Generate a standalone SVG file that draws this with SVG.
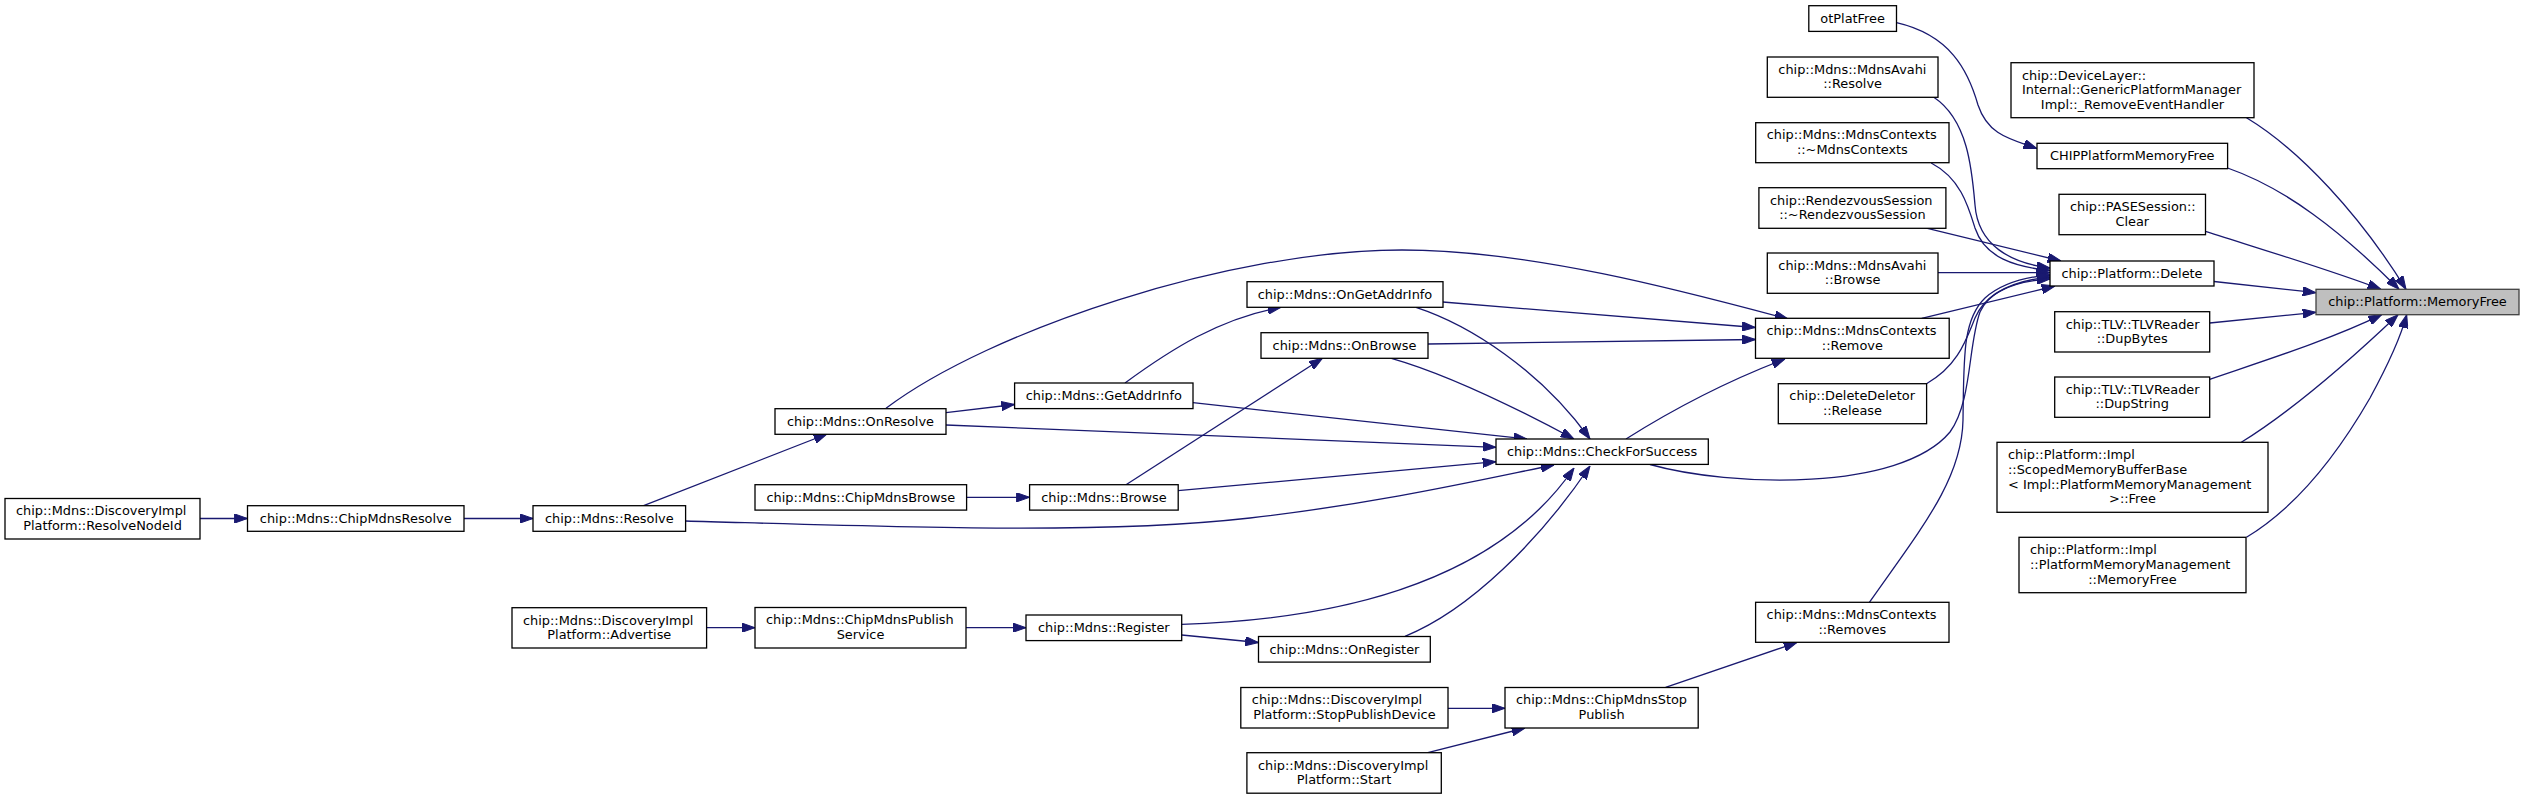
<svg xmlns="http://www.w3.org/2000/svg" width="2524" height="799" viewBox="0 0 2524 799">
<style>
.n rect{fill:#ffffff;stroke:#000000;stroke-width:1.3}
.n.root rect{fill:#bfbfbf;stroke:#404040}
.n text{font-family:"DejaVu Sans","Liberation Sans",sans-serif;font-size:12.9px;fill:#000000}
.c{text-anchor:middle}
#edges path{fill:none;stroke:#191970;stroke-width:1.3;marker-end:url(#ah)}
</style>
<defs>
<marker id="ah" markerWidth="13.3" markerHeight="9.4" refX="13.3" refY="4.7" orient="auto" markerUnits="userSpaceOnUse">
<path d="M0,0 L13.3,4.7 L0,9.4 z" fill="#191970" stroke="#191970" stroke-width="1"/>
</marker>
</defs>
<rect x="0" y="0" width="2524" height="799" fill="#ffffff"/>
<g id="edges">
<path d="M1896.5,22.7 C1950,35 1968,70 1978,105 C1988,135 2010,139 2036.8,148.5"/>
<path d="M1933.8,97.3 C1968,120 1972,170 1975,205 C1978,245 2010,263 2050,268"/>
<path d="M1931.2,163 C1960,178 1968,205 1975,228 C1985,258 2015,267 2050,270.5"/>
<path d="M1923.3,227.3 L2061,261"/>
<path d="M1938,272.7 L2050,272.7"/>
<path d="M1921.7,318.3 L2055,286"/>
<path d="M1926.5,383.7 C1958,366 1966,340 1975,318 C1985,295 2010,281 2050,277"/>
<path d="M1650,464.5 C1730,487 1900,492 1950,432 C1972,402 1968,345 1980,312 C1990,290 2015,281 2050,279"/>
<path d="M1869.2,602.7 C1920,530 1962,480 1963,420 C1964,360 1962,320 1985,298 C2002,283 2025,277 2050,275"/>
<path d="M2214,281.5 L2316,292.7"/>
<path d="M2246.5,117.7 C2300,150 2360,215 2406,289.3"/>
<path d="M2227.6,168 C2285,188 2340,230 2399,289.3"/>
<path d="M2205.5,231.3 C2270,252 2330,270 2381,289.3"/>
<path d="M2209.7,323 L2316,312.3"/>
<path d="M2209.7,379.3 C2260,362 2330,340 2381.7,314.7"/>
<path d="M2241.3,442.3 C2290,412 2345,365 2398,314.7"/>
<path d="M2246.5,537.3 C2300,505 2340,450 2370,398 C2388,365 2400,340 2406.7,314.7"/>
<path d="M886,408.3 C990,330 1230,250 1402,250 C1530,250 1680,290 1788,319"/>
<path d="M1442.8,302 L1755.3,327.5"/>
<path d="M1428,344 L1755.3,339.5"/>
<path d="M1626,439 C1680,405 1730,380 1785,359"/>
<path d="M1416,307.3 C1470,325 1540,370 1590,439"/>
<path d="M1391.4,358.3 C1450,375 1520,410 1574,439"/>
<path d="M1193,402.7 L1527,439"/>
<path d="M946,425 L1496,447.3"/>
<path d="M1178,490.7 L1496,461.7"/>
<path d="M685.6,521 C900,527 1100,535 1250,518 C1380,503 1480,480 1554,465"/>
<path d="M1181.7,624.3 C1320,620 1490,590 1574,468"/>
<path d="M1405,636.3 C1470,610 1540,540 1590,466"/>
<path d="M946,412.7 L1014.6,404.5"/>
<path d="M1125,383 C1170,350 1220,318 1281,307.3"/>
<path d="M1126,484.7 L1322.4,358.3"/>
<path d="M966.6,497.3 L1029.6,497.3"/>
<path d="M643.6,505.7 L827,434"/>
<path d="M464,518.5 L533,518.5"/>
<path d="M200,518.5 L247.5,518.5"/>
<path d="M706.6,627.7 L755,627.7"/>
<path d="M966,627.7 L1026,627.7"/>
<path d="M1181.7,635 L1258.5,642.5"/>
<path d="M1448,708.3 L1505,708.3"/>
<path d="M1427.8,752.7 L1525,728"/>
<path d="M1665.6,687.3 L1797,642.5"/>
</g>
<g id="node_MemoryFree" class="n root"><rect x="2316" y="289.3" width="203" height="25.4"/><text class="c" x="2417.5" y="306.4">chip::Platform::MemoryFree</text></g>
<g id="node_RemoveEventHandler" class="n"><rect x="2011" y="62.7" width="243" height="55"/><text x="2022" y="79.6">chip::DeviceLayer::</text><text x="2022" y="94.2">Internal::GenericPlatformManager</text><text class="c" x="2132.5" y="108.8">Impl::_RemoveEventHandler</text></g>
<g id="node_CHIPPlatformMemoryFree" class="n"><rect x="2037" y="143.3" width="190.6" height="25.4"/><text class="c" x="2132.3" y="160.4">CHIPPlatformMemoryFree</text></g>
<g id="node_PASESessionClear" class="n"><rect x="2059" y="194.3" width="146.5" height="40.4"/><text x="2070" y="211.2">chip::PASESession::</text><text class="c" x="2132.25" y="225.8">Clear</text></g>
<g id="node_Delete" class="n"><rect x="2050" y="261" width="164" height="25"/><text class="c" x="2132" y="277.9">chip::Platform::Delete</text></g>
<g id="node_DupBytes" class="n"><rect x="2054.7" y="311.7" width="155" height="40.3"/><text x="2065.7" y="328.5">chip::TLV::TLVReader</text><text class="c" x="2132.2" y="343.1">::DupBytes</text></g>
<g id="node_DupString" class="n"><rect x="2054.7" y="377" width="155" height="40.3"/><text x="2065.7" y="393.8">chip::TLV::TLVReader</text><text class="c" x="2132.2" y="408.4">::DupString</text></g>
<g id="node_ScopedFree" class="n"><rect x="1997" y="442.3" width="271" height="70"/><text x="2008" y="459.4">chip::Platform::Impl</text><text x="2008" y="474">::ScopedMemoryBufferBase</text><text x="2008" y="488.6">&lt; Impl::PlatformMemoryManagement</text><text class="c" x="2132.5" y="503.2">&gt;::Free</text></g>
<g id="node_PMMMemoryFree" class="n"><rect x="2019" y="537.3" width="227" height="55.4"/><text x="2030" y="554.4">chip::Platform::Impl</text><text x="2030" y="569">::PlatformMemoryManagement</text><text class="c" x="2132.5" y="583.6">::MemoryFree</text></g>
<g id="node_otPlatFree" class="n"><rect x="1808.8" y="5.7" width="87.7" height="25.7"/><text class="c" x="1852.65" y="22.9">otPlatFree</text></g>
<g id="node_AvahiResolve" class="n"><rect x="1767.3" y="57" width="170.7" height="40.3"/><text x="1778.3" y="73.8">chip::Mdns::MdnsAvahi</text><text class="c" x="1852.65" y="88.4">::Resolve</text></g>
<g id="node_MdnsContextsDtor" class="n"><rect x="1755.7" y="122.7" width="193.3" height="40"/><text x="1766.7" y="139.4">chip::Mdns::MdnsContexts</text><text class="c" x="1852.35" y="154">::~MdnsContexts</text></g>
<g id="node_RendezvousDtor" class="n"><rect x="1758.9" y="187.7" width="187" height="40.6"/><text x="1769.9" y="204.7">chip::RendezvousSession</text><text class="c" x="1852.4" y="219.3">::~RendezvousSession</text></g>
<g id="node_AvahiBrowse" class="n"><rect x="1767.3" y="253" width="170.7" height="40.3"/><text x="1778.3" y="269.8">chip::Mdns::MdnsAvahi</text><text class="c" x="1852.65" y="284.4">::Browse</text></g>
<g id="node_Remove" class="n"><rect x="1755.5" y="318.3" width="193.7" height="40"/><text x="1766.5" y="335">chip::Mdns::MdnsContexts</text><text class="c" x="1852.35" y="349.6">::Remove</text></g>
<g id="node_DeleteDeletor" class="n"><rect x="1778.3" y="383.7" width="148.3" height="40"/><text x="1789.3" y="400.4">chip::DeleteDeletor</text><text class="c" x="1852.45" y="415">::Release</text></g>
<g id="node_Removes" class="n"><rect x="1755.6" y="602.3" width="193.4" height="40"/><text x="1766.6" y="619">chip::Mdns::MdnsContexts</text><text class="c" x="1852.3" y="633.6">::Removes</text></g>
<g id="node_CheckForSuccess" class="n"><rect x="1496" y="439" width="212.3" height="25.4"/><text class="c" x="1602.15" y="456.1">chip::Mdns::CheckForSuccess</text></g>
<g id="node_ChipMdnsStopPublish" class="n"><rect x="1505" y="687.5" width="193.2" height="40.5"/><text x="1516" y="704.4">chip::Mdns::ChipMdnsStop</text><text class="c" x="1601.6" y="719">Publish</text></g>
<g id="node_OnGetAddrInfo" class="n"><rect x="1247" y="281.7" width="196" height="25.6"/><text class="c" x="1345" y="298.9">chip::Mdns::OnGetAddrInfo</text></g>
<g id="node_OnBrowse" class="n"><rect x="1261" y="332.7" width="167" height="25.6"/><text class="c" x="1344.5" y="349.9">chip::Mdns::OnBrowse</text></g>
<g id="node_OnRegister" class="n"><rect x="1258.5" y="636.5" width="171.8" height="25.6"/><text class="c" x="1344.4" y="653.7">chip::Mdns::OnRegister</text></g>
<g id="node_StopPublishDevice" class="n"><rect x="1240.8" y="687.5" width="207.2" height="40.5"/><text x="1251.8" y="704.4">chip::Mdns::DiscoveryImpl</text><text class="c" x="1344.4" y="719">Platform::StopPublishDevice</text></g>
<g id="node_Start" class="n"><rect x="1246.9" y="752.7" width="194.4" height="40.5"/><text x="1257.9" y="769.6">chip::Mdns::DiscoveryImpl</text><text class="c" x="1344.1" y="784.2">Platform::Start</text></g>
<g id="node_GetAddrInfo" class="n"><rect x="1014.6" y="383" width="178.4" height="25.6"/><text class="c" x="1103.8" y="400.2">chip::Mdns::GetAddrInfo</text></g>
<g id="node_Browse" class="n"><rect x="1029.6" y="484.7" width="148.6" height="25.4"/><text class="c" x="1103.9" y="501.8">chip::Mdns::Browse</text></g>
<g id="node_Register" class="n"><rect x="1026" y="615" width="155.7" height="25.6"/><text class="c" x="1103.85" y="632.2">chip::Mdns::Register</text></g>
<g id="node_OnResolve" class="n"><rect x="775" y="408.7" width="171" height="25.6"/><text class="c" x="860.5" y="425.9">chip::Mdns::OnResolve</text></g>
<g id="node_ChipMdnsBrowse" class="n"><rect x="755" y="484.7" width="211.6" height="25.4"/><text class="c" x="860.8" y="501.8">chip::Mdns::ChipMdnsBrowse</text></g>
<g id="node_ChipMdnsPublishService" class="n"><rect x="755" y="607.5" width="211" height="40.5"/><text x="766" y="624.4">chip::Mdns::ChipMdnsPublish</text><text class="c" x="860.5" y="639">Service</text></g>
<g id="node_Resolve" class="n"><rect x="533" y="505.7" width="152.6" height="25.6"/><text class="c" x="609.3" y="522.9">chip::Mdns::Resolve</text></g>
<g id="node_Advertise" class="n"><rect x="512" y="607.7" width="194.6" height="40.3"/><text x="523" y="624.5">chip::Mdns::DiscoveryImpl</text><text class="c" x="609.3" y="639.1">Platform::Advertise</text></g>
<g id="node_ChipMdnsResolve" class="n"><rect x="247.5" y="505.7" width="216.5" height="25.6"/><text class="c" x="355.75" y="522.9">chip::Mdns::ChipMdnsResolve</text></g>
<g id="node_ResolveNodeId" class="n"><rect x="5" y="498.5" width="195" height="40.5"/><text x="16" y="515.4">chip::Mdns::DiscoveryImpl</text><text class="c" x="102.5" y="530">Platform::ResolveNodeId</text></g>
</svg>
